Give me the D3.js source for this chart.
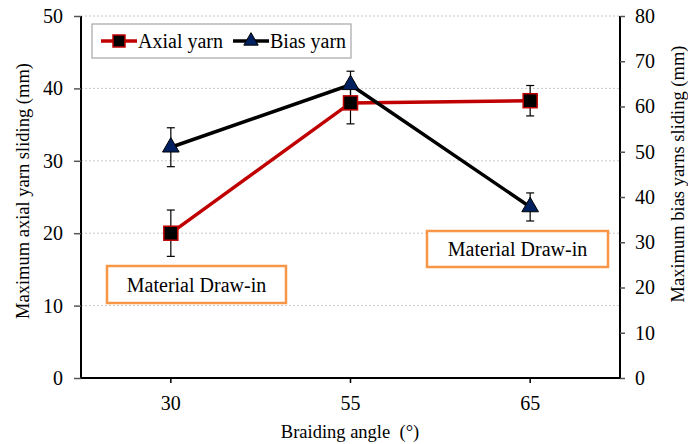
<!DOCTYPE html>
<html>
<head>
<meta charset="utf-8">
<script src="https://cdn.jsdelivr.net/npm/d3@7"></script>
<style>
  body { margin: 0; background: #fff; }
  svg text { font-family: "Liberation Serif", "Times New Roman", Times, "DejaVu Serif", serif !important; fill: #000; }
</style>
</head>
<body>
<div id="chart"></div>
<script>
// data
const angles = ["30", "55", "65"];
const axialValues = [20.0, 38.0, 38.3];
const axialErrors = [3.2, 2.9, 2.1];
const biasValues = [51.0, 64.8, 37.8];
const biasErrors = [4.3, 3.0, 3.1];
const leftTicks = [0, 10, 20, 30, 40, 50];
const rightTicks = [0, 10, 20, 30, 40, 50, 60, 70, 80];

const serif = "'Liberation Serif', 'Times New Roman', Times, 'DejaVu Serif', serif";

const width = 688, height = 444;
const margin = { top: 16, right: 68, bottom: 66, left: 81 };
const plotW = width - margin.left - margin.right;
const plotH = height - margin.top - margin.bottom;

const svg = d3.select("#chart").append("svg")
  .attr("width", width)
  .attr("height", height)
  .attr("font-family", serif);

const g = svg.append("g")
  .attr("transform", `translate(${margin.left},${margin.top})`);

// scales
const x = d3.scaleBand().domain(angles).range([0, plotW]).padding(0);
const cx = d => x(d) + x.bandwidth() / 2;
const yL = d3.scaleLinear().domain([0, 50]).range([plotH, 0]);
const yR = d3.scaleLinear().domain([0, 80]).range([plotH, 0]);

// gridlines
g.selectAll(".grid")
  .data(leftTicks.filter(t => t > 0))
  .enter().append("line")
  .attr("x1", 0).attr("x2", plotW)
  .attr("y1", d => yL(d)).attr("y2", d => yL(d))
  .attr("stroke", "#c8c8c8")
  .attr("stroke-width", 1)
  .attr("stroke-dasharray", "2,2");

// axes
const axL = g.append("g")
  .call(d3.axisLeft(yL).tickValues(leftTicks).tickSize(7).tickPadding(11));
const axR = g.append("g")
  .attr("transform", `translate(${plotW},0)`)
  .call(d3.axisRight(yR).tickValues(rightTicks).tickSize(5).tickPadding(10));
const axB = g.append("g")
  .attr("transform", `translate(0,${plotH})`)
  .call(d3.axisBottom(x).tickSize(5).tickPadding(13));

[axL, axR, axB].forEach(a => {
  a.attr("font-family", serif);
  a.select(".domain").attr("stroke", "#000").attr("stroke-width", 2);
  a.selectAll(".tick line").attr("stroke", "#555").attr("stroke-width", 1.5);
  a.selectAll(".tick text")
    .style("font-size", "20px")
    .attr("fill", "#000");
});
axL.select(".domain").attr("d", `M0,${plotH}V0`);
axR.select(".domain").attr("d", `M0,${plotH}V0`);
axB.select(".domain").attr("d", `M0,0H${plotW}`);
axB.selectAll(".tick line").attr("stroke", "#000");

// axis titles
svg.append("text")
  .attr("transform", "translate(29,191) rotate(-90)")
  .attr("text-anchor", "middle")
  .style("font-size", "18.5px")
  .text("Maximum axial yarn sliding (mm)");

svg.append("text")
  .attr("transform", "translate(684,174) rotate(-90)")
  .attr("text-anchor", "middle")
  .style("font-size", "18.5px")
  .text("Maximum bias yarns sliding (mm)");

svg.append("text")
  .attr("x", 350)
  .attr("y", 438)
  .attr("text-anchor", "middle")
  .style("font-size", "18.5px")
  .style("white-space", "pre")
  .text("Braiding angle  (°)");

// annotation boxes
function noteBox(x0, y0, w, h) {
  svg.append("rect")
    .attr("x", x0).attr("y", y0).attr("width", w).attr("height", h)
    .attr("fill", "#fff")
    .attr("stroke", "#f79646")
    .attr("stroke-width", 2.5);
  svg.append("text")
    .attr("x", x0 + w / 2).attr("y", y0 + h / 2)
    .attr("dy", "0.35em")
    .attr("text-anchor", "middle")
    .style("font-size", "20px")
    .text("Material Draw-in");
}
noteBox(107, 266, 179, 37);
noteBox(427, 231, 181, 36);

// series
const axial = angles.map((a, i) => ({ a, v: axialValues[i], e: axialErrors[i] }));
const bias = angles.map((a, i) => ({ a, v: biasValues[i], e: biasErrors[i] }));

function errorBars(data, y) {
  const eb = g.append("g").attr("stroke", "#000").attr("stroke-width", 1.2);
  data.forEach(d => {
    eb.append("line").attr("x1", cx(d.a)).attr("x2", cx(d.a))
      .attr("y1", y(d.v - d.e)).attr("y2", y(d.v + d.e));
    [d.v - d.e, d.v + d.e].forEach(t => {
      eb.append("line").attr("x1", cx(d.a) - 4).attr("x2", cx(d.a) + 4)
        .attr("y1", y(t)).attr("y2", y(t));
    });
  });
}
errorBars(axial, yL);
errorBars(bias, yR);

g.append("path")
  .datum(axial)
  .attr("fill", "none")
  .attr("stroke", "#c00000")
  .attr("stroke-width", 3.5)
  .attr("d", d3.line().x(d => cx(d.a)).y(d => yL(d.v)));

g.append("path")
  .datum(bias)
  .attr("fill", "none")
  .attr("stroke", "#000")
  .attr("stroke-width", 3.5)
  .attr("d", d3.line().x(d => cx(d.a)).y(d => yR(d.v)));

g.selectAll(".sq")
  .data(axial)
  .enter().append("rect")
  .attr("x", d => cx(d.a) - 7).attr("y", d => yL(d.v) - 7)
  .attr("width", 14).attr("height", 14)
  .attr("fill", "#000")
  .attr("stroke", "#c00000")
  .attr("stroke-width", 1.5);

const tri = d3.symbol().type(d3.symbolTriangle).size(120);
g.selectAll(".tri")
  .data(bias)
  .enter().append("path")
  .attr("transform", d => `translate(${cx(d.a)},${yR(d.v)})`)
  .attr("d", tri)
  .attr("fill", "#002060")
  .attr("stroke", "#000")
  .attr("stroke-width", 1);

// legend
const leg = svg.append("g");
leg.append("rect")
  .attr("x", 92).attr("y", 24).attr("width", 259).attr("height", 34)
  .attr("fill", "#fff").attr("stroke", "#a6a6a6").attr("stroke-width", 1.2);

const legItems = [
  { label: "Axial yarn", x0: 101, color: "#c00000", marker: "sq" },
  { label: "Bias yarn", x0: 233, color: "#000", marker: "tri" }
];
legItems.forEach(it => {
  leg.append("line")
    .attr("x1", it.x0).attr("x2", it.x0 + 36)
    .attr("y1", 41).attr("y2", 41)
    .attr("stroke", it.color).attr("stroke-width", 3.5);
  if (it.marker === "sq") {
    leg.append("rect")
      .attr("x", it.x0 + 12).attr("y", 35).attr("width", 12).attr("height", 12)
      .attr("fill", "#000").attr("stroke", "#c00000").attr("stroke-width", 1.5);
  } else {
    leg.append("path")
      .attr("transform", `translate(${it.x0 + 18},41)`)
      .attr("d", d3.symbol().type(d3.symbolTriangle).size(90))
      .attr("fill", "#002060").attr("stroke", "#000");
  }
  leg.append("text")
    .attr("x", it.x0 + 37).attr("y", 41)
    .attr("dy", "0.35em")
    .style("font-size", "20px")
    .text(it.label);
});
</script>
</body>
</html>
